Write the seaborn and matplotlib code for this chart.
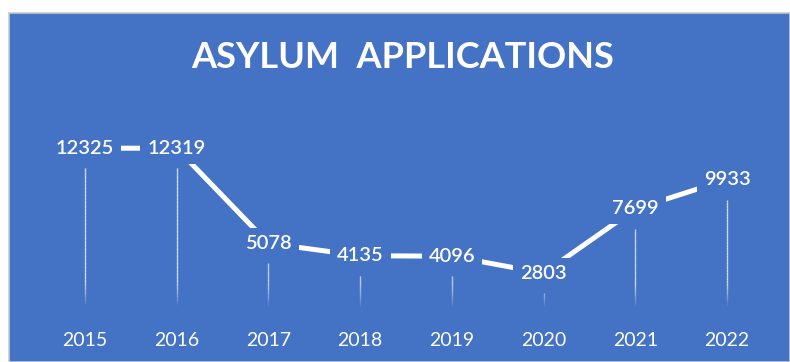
import numpy as np
import pandas as pd
import matplotlib
matplotlib.use("Agg")
import matplotlib.pyplot as plt
from matplotlib.patches import Rectangle
import seaborn as sns

years = ["2015", "2016", "2017", "2018", "2019", "2020", "2021", "2022"]
applications = [12325, 12319, 5078, 4135, 4096, 2803, 7699, 9933]

BLUE = "#4472C4"

sns.set_theme(style="white")
plt.rcParams["font.family"] = ["Lato", "DejaVu Sans"]

df = pd.DataFrame({"pos": np.arange(len(years)), "year": years, "value": applications})

fig = plt.figure(figsize=(7.9, 3.62), dpi=100, facecolor="white")
# chart panel
fig.add_artist(Rectangle((9 / 790, 0), 1 - 9 / 790, (362 - 13) / 362,
                         transform=fig.transFigure, facecolor=BLUE,
                         edgecolor="#C8C8C8", linewidth=1.2, zorder=-1))

ax = fig.add_axes([39 / 790, (362 - 310) / 362, 734 / 790, 190 / 362])
ax.set_zorder(2)
ax.set_facecolor("none")
ax.set_xlim(-0.5, len(years) - 0.5)
ax.set_ylim(0, 14470)

# drop lines fading toward the baseline
px_per_unit = 190 / 14470
gap = 20 / px_per_unit
bottom = 2 / px_per_unit
for x, v in zip(df["pos"], df["value"]):
    top = v - gap
    edges = np.linspace(bottom, top, 40)
    for k in range(len(edges) - 1):
        frac = min(1.0, (edges[k] - bottom) / 1800)
        ax.plot([x, x], [edges[k], edges[k + 1]], color="white",
                alpha=0.75 * frac, linewidth=1.0, solid_capstyle="butt", zorder=1)

sns.lineplot(data=df, x="pos", y="value", color="white", linewidth=3.6,
             ax=ax, zorder=2)

for x, v in zip(df["pos"], df["value"]):
    ax.text(x, v, f"{v}", ha="center", va="center", color="white",
            fontsize=14.5, fontweight="semibold", zorder=3,
            bbox=dict(boxstyle="square,pad=0.35", facecolor=BLUE, edgecolor="none"))

ax.set_xticks(df["pos"], years)
ax.tick_params(axis="x", length=0, pad=16, labelcolor="white", labelsize=14)
ax.set_yticks([])
ax.set_xlabel("")
ax.set_ylabel("")
for s in ax.spines.values():
    s.set_visible(False)

fig.text(403 / 790, 1 - 57 / 362, "ASYLUM  APPLICATIONS", ha="center", va="center",
         color="white", fontsize=26, fontweight="bold")

fig.savefig("out.png", dpi=100, facecolor="white")
